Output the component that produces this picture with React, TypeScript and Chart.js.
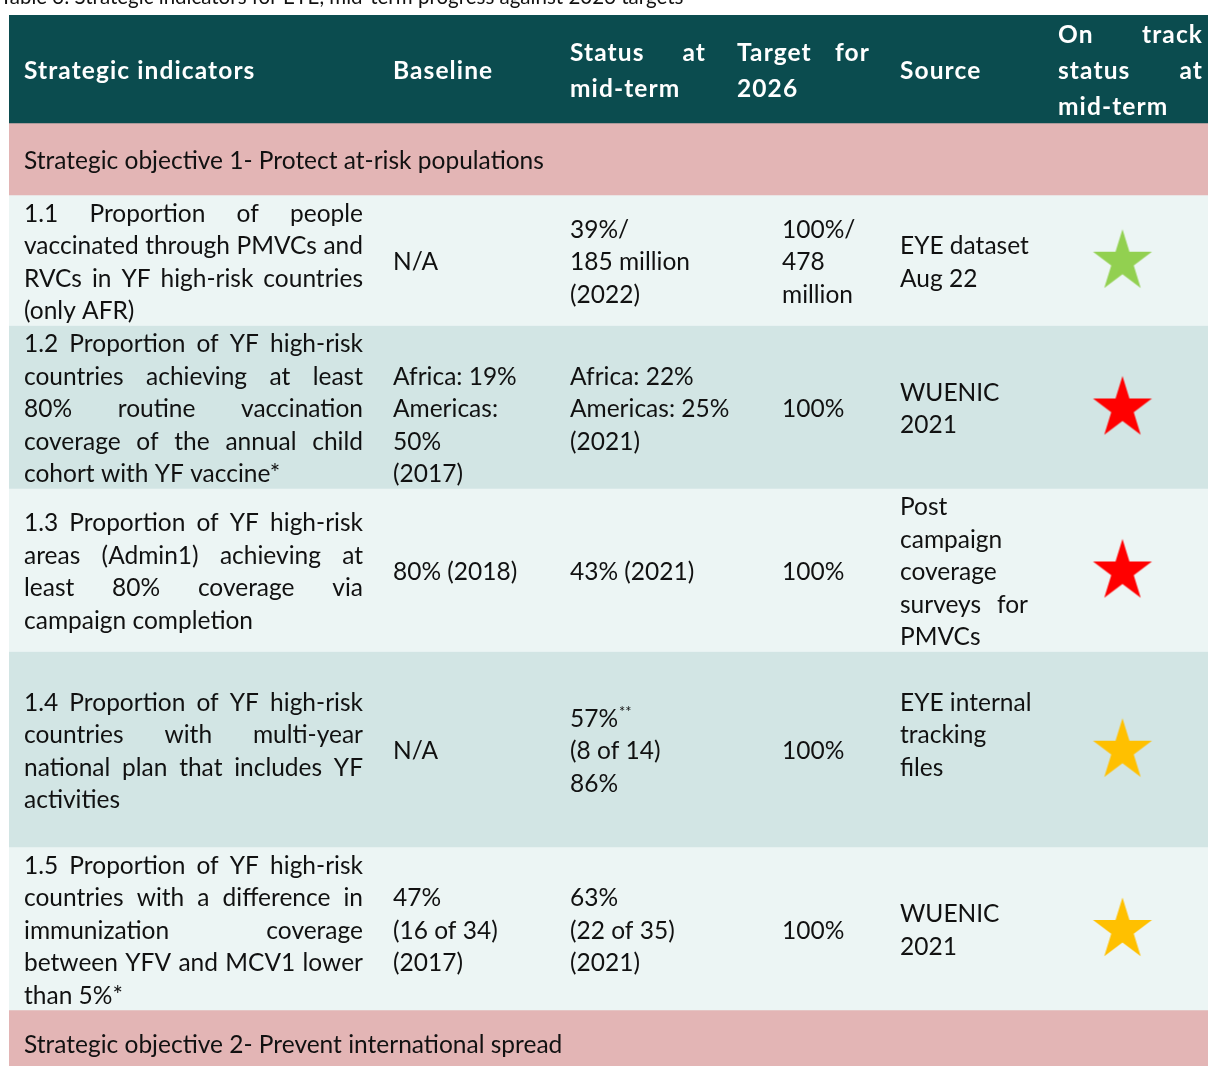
import React, { useEffect, useRef } from "react";
import { Chart, registerables } from "chart.js";
Chart.register(...registerables);

// ---------------- data ----------------
const TITLE = "Table 3: Strategic indicators for EYE, mid-term progress against 2026 targets";
const HEADERS: string[][] = [
  ["Strategic indicators"],
  ["Baseline"],
  ["Status at", "mid-term"],
  ["Target for", "2026"],
  ["Source"],
  ["On track", "status at", "mid-term"],
];
const OBJECTIVES = [
  "Strategic objective 1- Protect at-risk populations",
  "Strategic objective 2- Prevent international spread",
];
const INDICATORS: string[][] = [
  ["1.1 Proportion of people", "vaccinated through PMVCs and", "RVCs in YF high-risk countries", "(only AFR)"],
  ["1.2 Proportion of YF high-risk", "countries achieving at least", "80% routine vaccination", "coverage of the annual child", "cohort with YF vaccine*"],
  ["1.3 Proportion of YF high-risk", "areas (Admin1) achieving at", "least 80% coverage via", "campaign completion"],
  ["1.4 Proportion of YF high-risk", "countries with multi-year", "national plan that includes YF", "activities"],
  ["1.5 Proportion of YF high-risk", "countries with a difference in", "immunization coverage", "between YFV and MCV1 lower", "than 5%*"],
];
const BASELINES: string[][] = [
  ["N/A"],
  ["", "Africa: 19%", "Americas:", "50%", "(2017)"],
  ["80% (2018)"],
  ["N/A"],
  ["47%", "(16 of 34)", "(2017)"],
];
const STATUS_MIDTERM: string[][] = [
  ["39%/", "185 million", "(2022)"],
  ["Africa: 22%", "Americas: 25%", "(2021)"],
  ["43% (2021)"],
  ["57%^**", "(8 of 14)", "86%"],
  ["63%", "(22 of 35)", "(2021)"],
];
const TARGETS_2026: string[][] = [
  ["100%/", "478", "million"],
  ["100%"],
  ["100%"],
  ["100%"],
  ["100%"],
];
const SOURCES: string[][] = [
  ["EYE dataset", "Aug 22"],
  ["WUENIC", "2021"],
  ["Post", "campaign", "coverage", "surveys for", "PMVCs"],
  ["EYE internal", "tracking", "files", ""],
  ["WUENIC", "2021"],
];
const ON_TRACK_STATUS = ["on track", "off track", "off track", "partly", "partly"];
const ROW_LINE_SLOTS = [4, 5, 5, 6, 5];

// ---------------- styles / layout ----------------
const FONT = "Lato, 'Open Sans', sans-serif";
const FS = 24.5;
const LH = 32.5;
const HEAD_LH = 36;
const HEAD_H = 108;
const OBJ_H = 72;
const BASE_OFF = 10;
const TABLE_LEFT = 9;
const TABLE_TOP = 15;
const W = 1208;
const H = 1066;
const COL_W = [369, 177, 167, 163, 158, 159];
const PAD = 15;
const DATA_INDENT = [0, 0, 0, 45, 0, 0];
const HEAD_JUSTIFY_W = [0, 0, 136, 133, 0, 145];
const DATA_JUSTIFY_W = [339, 0, 0, 0, 128, 0];
const HEAD_LETTER_SPACING = "1.1px";
const TEXT = "#111111";
const HEAD_BG = "#0B4C4F";
const OBJ_BG = "#E3B5B5";
const LIGHT_BG = "#ECF5F4";
const DARK_BG = "#D2E5E4";
const STAR_COLORS: Record<string, string> = { "on track": "#92D050", "off track": "#FF0000", partly: "#FFC000" };

function makeStar(color: string) {
  const R = 31;
  const sy = 1.05;
  const size = 72;
  const c = document.createElement("canvas");
  c.width = size;
  c.height = size;
  const g = c.getContext("2d")!;
  g.fillStyle = color;
  g.beginPath();
  for (let i = 0; i < 10; i++) {
    const r = i % 2 === 0 ? R : R * 0.382;
    const a = -Math.PI / 2 + (i * Math.PI) / 5;
    g.lineTo(size / 2 + r * Math.cos(a), size / 2 + r * Math.sin(a) * sy);
  }
  g.closePath();
  g.fill();
  return c;
}

type Row = { kind: string; top: number; h: number; idx: number; bg: string };

function buildRows(): Row[] {
  const rows: Row[] = [];
  let y = 0;
  rows.push({ kind: "head", top: y, h: HEAD_H, idx: 0, bg: HEAD_BG });
  y += HEAD_H;
  rows.push({ kind: "obj", top: y, h: OBJ_H, idx: 0, bg: OBJ_BG });
  y += OBJ_H;
  INDICATORS.forEach((_, i) => {
    const h = ROW_LINE_SLOTS[i] * LH + 0.5;
    rows.push({ kind: "ind", top: y, h, idx: i, bg: i % 2 === 0 ? LIGHT_BG : DARK_BG });
    y += h;
  });
  rows.push({ kind: "obj", top: y, h: OBJ_H, idx: 1, bg: OBJ_BG });
  return rows;
}

function drawLine(ctx: CanvasRenderingContext2D, text: string, x: number, y: number, justifyW: number, size: number, weight: string) {
  if (!text) return;
  const font = `${weight} ${size}px ${FONT}`;
  ctx.font = font;
  if (text.includes("^")) {
    const [main, sup] = text.split("^");
    ctx.fillText(main, x, y);
    const w = ctx.measureText(main).width;
    ctx.font = `${weight} ${size * 0.6}px ${FONT}`;
    ctx.fillText(sup, x + w + 1, y - size * 0.38);
    ctx.font = font;
    return;
  }
  const words = text.split(" ");
  if (justifyW > 0 && words.length > 1) {
    const widths = words.map((w) => ctx.measureText(w).width);
    const total = widths.reduce((a, b) => a + b, 0);
    const space = ctx.measureText(" ").width;
    const gap = Math.max(space, (justifyW - total) / (words.length - 1));
    let cx = x;
    words.forEach((w, i) => {
      ctx.fillText(w, cx, y);
      cx += widths[i] + gap;
    });
  } else {
    ctx.fillText(text, x, y);
  }
}

function drawCell(
  ctx: CanvasRenderingContext2D,
  lines: string[],
  x: number,
  centerY: number,
  lh: number,
  justifyW: number,
  size: number,
  weight: string
) {
  const n = lines.length;
  lines.forEach((line, i) => {
    const y = centerY + (i - (n - 1) / 2) * lh + BASE_OFF;
    drawLine(ctx, line, x, y, i < n - 1 ? justifyW : 0, size, weight);
  });
}

export default function App() {
  const ref = useRef<HTMLCanvasElement>(null);
  useEffect(() => {
    const rows = buildRows();
    const colLeft: number[] = [];
    COL_W.reduce((acc, w) => {
      colLeft.push(acc);
      return acc + w;
    }, 0);
    const starX = colLeft[5] + COL_W[5] / 2;
    const indRows = rows.filter((r) => r.kind === "ind");
    const starImgs = ON_TRACK_STATUS.map((s) => makeStar(STAR_COLORS[s]));

    const textPlugin = {
      id: "tableText",
      afterDatasetsDraw(chart: any) {
        const ctx: CanvasRenderingContext2D = chart.ctx;
        const xs = chart.scales.x2;
        const ys = chart.scales.y;
        const X = (v: number) => xs.getPixelForValue(v);
        const Y = (v: number) => ys.getPixelForValue(v);
        ctx.save();
        ctx.textBaseline = "alphabetic";
        ctx.textAlign = "left";
        // title (partly above the visible area)
        ctx.fillStyle = TEXT;
        ctx.font = `400 20.5px ${FONT}`;
        ctx.fillText(TITLE, 0, Y(-11.5));
        rows.forEach((r) => {
          const cy = Y(r.top + r.h / 2);
          if (r.kind === "head") {
            ctx.fillStyle = "#FFFFFF";
            (ctx as any).letterSpacing = HEAD_LETTER_SPACING;
            HEADERS.forEach((lines, c) => {
              drawCell(ctx, lines, X(colLeft[c] + PAD), cy, HEAD_LH, HEAD_JUSTIFY_W[c], FS, "700");
            });
            (ctx as any).letterSpacing = "0px";
          } else if (r.kind === "obj") {
            ctx.fillStyle = TEXT;
            drawCell(ctx, [OBJECTIVES[r.idx]], X(colLeft[0] + PAD), cy - r.idx * 3, LH, 0, FS, "400");
          } else {
            ctx.fillStyle = TEXT;
            const cells = [INDICATORS, BASELINES, STATUS_MIDTERM, TARGETS_2026, SOURCES];
            cells.forEach((arr, c) => {
              drawCell(ctx, arr[r.idx], X(colLeft[c] + PAD + DATA_INDENT[c]), cy, LH, DATA_JUSTIFY_W[c], FS, "400");
            });
          }
        });
        ctx.restore();
      },
    };

    const chart = new Chart(ref.current!, {
      type: "bar",
      data: {
        labels: ["table"],
        datasets: [
          {
            type: "scatter",
            label: "stars",
            data: indRows.map((r) => ({ x: starX, y: r.top + r.h / 2 + 1.5 })),
            pointStyle: starImgs as any,
            pointRadius: 30,
            xAxisID: "x2",
            yAxisID: "y",
            order: 0,
            clip: false,
          } as any,
          ...rows.map((r, i) => ({
            type: "bar",
            label: "row" + i,
            data: [[r.top, r.top + r.h]],
            backgroundColor: r.bg,
            borderWidth: 0,
            borderSkipped: false,
            grouped: false,
            barPercentage: 1,
            categoryPercentage: 1,
            xAxisID: "x",
            yAxisID: "y",
            order: 1,
          })),
        ],
      },
      options: {
        animation: false,
        responsive: false,
        maintainAspectRatio: false,
        events: [],
        layout: { autoPadding: false, padding: { left: TABLE_LEFT, top: TABLE_TOP, right: 0, bottom: 0 } },
        plugins: { legend: { display: false }, tooltip: { enabled: false }, title: { display: false } },
        scales: {
          x: { type: "category", display: false, offset: true },
          x2: { type: "linear", display: false, offset: false, min: 0, max: W - TABLE_LEFT },
          y: { type: "linear", display: false, offset: false, reverse: true, min: 0, max: H - TABLE_TOP },
        },
      } as any,
      plugins: [textPlugin],
    });
    return () => chart.destroy();
  }, []);
  return (
    <div style={{ position: "fixed", left: 0, top: 0, width: W, height: H, background: "#fff" }}>
      <canvas ref={ref} width={W} height={H} style={{ display: "block" }} />
    </div>
  );
}
